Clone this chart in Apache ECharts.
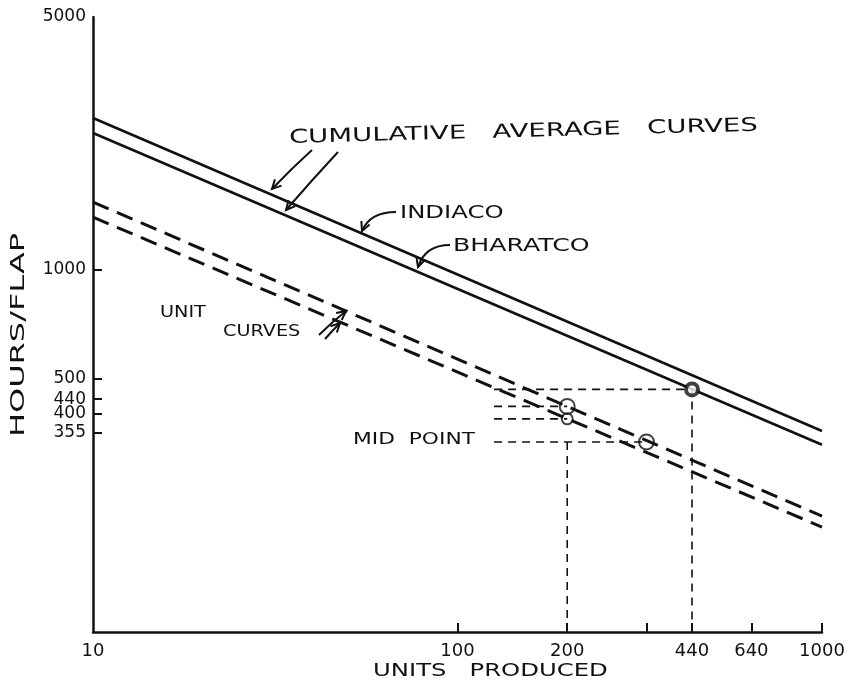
<!DOCTYPE html>
<html>
<head>
<meta charset="utf-8">
<script src="https://cdn.jsdelivr.net/npm/echarts@6/dist/echarts.min.js"></script>
<style>
  html, body { margin: 0; padding: 0; background: #ffffff; }
  #chart { width: 866px; height: 685px; }
</style>
</head>
<body>
<div id="chart"></div>
<script>
// Learning curves on log-log paper: hours per flap against units produced.
// Each curve is a straight line on log-log axes, given by its two end values.
const unitsRange = [10, 1000];

// Cumulative average hours per flap
const indiaco = [2630, 359];
const bharatco = [2390, 329];

// Unit (per-flap) hours
const unitUpper = [1540, 209];
const unitLower = [1400, 195];

// Axis ticks and labels
const xLabelValues = [10, 100, 200, 440, 640, 1000];
const xTickValues = [100, 200, 330, 440, 640, 1000];
const yLabelValues = [355, 400, 440, 500, 1000, 5000];
const yTickValues = [355, 400, 440, 500, 1000];

// Read-off points
const cumPoint = [440, 468];              // cumulative average at 440 units
const unitPoints = [[200, 420], [200, 388]];
const midPoint = [330, 335];              // MID POINT on the unit curve
const guideStart = 126;                   // where the horizontal read-off guides begin

const ink = '#111111';
const fontFamily = '"DejaVu Sans", "Liberation Sans", sans-serif';

const pair = ys => unitsRange.map((x, i) => [x, ys[i]]);

function curve(name, ys, dashed) {
  return {
    type: 'line', name, data: pair(ys), symbol: 'none', silent: true, z: 3,
    lineStyle: dashed
      ? { color: ink, width: 3, type: [17, 9] }
      : { color: ink, width: 2.6 }
  };
}

function guide(points) {
  return {
    type: 'line', data: points, symbol: 'none', silent: true, z: 2,
    lineStyle: { color: ink, width: 1.6, type: [8, 6] }
  };
}

function label(text, x, y, size, sx, rot, align) {
  return {
    type: 'text', x, y, rotation: rot || 0, scaleX: sx, z: 10,
    style: {
      text, fill: ink, font: size + 'px ' + fontFamily,
      align: align || 'left', verticalAlign: 'middle',
      textAlign: align || 'left', textVerticalAlign: 'middle'
    }
  };
}

function arrow(p0, c, p1) {
  const ang = Math.atan2(p1[1] - c[1], p1[0] - c[0]);
  const L = 9, W = 4.5;
  const bx = p1[0] - L * Math.cos(ang), by = p1[1] - L * Math.sin(ang);
  const head = [
    [bx + W * Math.sin(ang), by - W * Math.cos(ang)],
    p1,
    [bx - W * Math.sin(ang), by + W * Math.cos(ang)]
  ];
  return [
    { type: 'bezierCurve', z: 10,
      shape: { x1: p0[0], y1: p0[1], cpx1: c[0], cpy1: c[1], x2: p1[0], y2: p1[1] },
      style: { stroke: ink, lineWidth: 2, fill: null } },
    { type: 'polyline', z: 10, shape: { points: head },
      style: { stroke: ink, lineWidth: 2, fill: null } }
  ];
}

const chart = echarts.init(document.getElementById('chart'), null, { renderer: 'canvas' });

chart.setOption({
  animation: false,
  backgroundColor: '#ffffff',
  grid: { left: 93, right: 44, top: 17, bottom: 53 },
  xAxis: {
    type: 'log', logBase: 10, min: 10, max: 1000,
    axisLine: { show: true, lineStyle: { color: ink, width: 2.5 } },
    axisTick: { show: true, inside: true, length: 9, customValues: xTickValues,
      lineStyle: { color: ink, width: 2 } },
    minorTick: { show: false },
    axisLabel: { customValues: xLabelValues, formatter: v => String(v),
      color: ink, fontSize: 18, fontFamily: 'DejaVu Sans', margin: 10 },
    splitLine: { show: false }
  },
  yAxis: {
    type: 'log', logBase: 10, min: 100, max: 5000,
    axisLine: { show: true, lineStyle: { color: ink, width: 2.5 } },
    axisTick: { show: true, inside: true, length: 9, customValues: yTickValues,
      lineStyle: { color: ink, width: 2 } },
    minorTick: { show: false },
    axisLabel: { customValues: yLabelValues, formatter: v => String(v),
      color: ink, fontSize: 17, fontFamily: 'DejaVu Sans', margin: 7 },
    splitLine: { show: false }
  },
  series: [
    curve('INDIACO', indiaco, false),
    curve('BHARATCO', bharatco, false),
    curve('Unit curve (upper)', unitUpper, true),
    curve('Unit curve (lower)', unitLower, true),
    guide([[guideStart, cumPoint[1]], cumPoint, [cumPoint[0], 100]]),
    guide([[guideStart, unitPoints[0][1]], unitPoints[0]]),
    guide([[guideStart, unitPoints[1][1]], unitPoints[1]]),
    guide([[guideStart, midPoint[1]], midPoint]),
    guide([[unitPoints[0][0], midPoint[1]], [unitPoints[0][0], 100]]),
    {
      type: 'scatter', z: 5, silent: true, data: [cumPoint], symbolSize: 12,
      itemStyle: { color: '#ffffff', borderColor: ink, borderWidth: 4 }
    },
    {
      type: 'scatter', z: 5, silent: true, data: [unitPoints[0], midPoint], symbolSize: 15,
      itemStyle: { color: 'rgba(0,0,0,0)', borderColor: ink, borderWidth: 2 }
    },
    {
      type: 'scatter', z: 5, silent: true, data: [unitPoints[1]], symbolSize: 11,
      itemStyle: { color: 'rgba(0,0,0,0)', borderColor: ink, borderWidth: 2 }
    }
  ],
  graphic: [].concat(
    [
      label('CUMULATIVE   AVERAGE   CURVES', 289, 138, 19, 1.45, 0.026),
      label('INDIACO', 400, 213, 18, 1.35),
      label('BHARATCO', 453, 246, 18, 1.4),
      label('UNIT', 160, 313, 16, 1.2),
      label('CURVES', 223, 332, 16, 1.2),
      label('MID  POINT', 353, 440, 15, 1.45),
      label('HOURS/FLAP', 19, 335, 20, 1.6, Math.PI / 2, 'center'),
      label('UNITS   PRODUCED', 373, 671, 18, 1.35)
    ],
    arrow([312, 150], [292, 168], [272, 189]),
    arrow([338, 152], [312, 180], [286, 210]),
    arrow([396, 212], [370, 212], [362, 231]),
    arrow([450, 245], [425, 245], [418, 267]),
    arrow([319, 335], [332, 322], [346, 311]),
    arrow([325, 339], [333, 330], [340, 323])
  )
});
</script>
</body>
</html>
